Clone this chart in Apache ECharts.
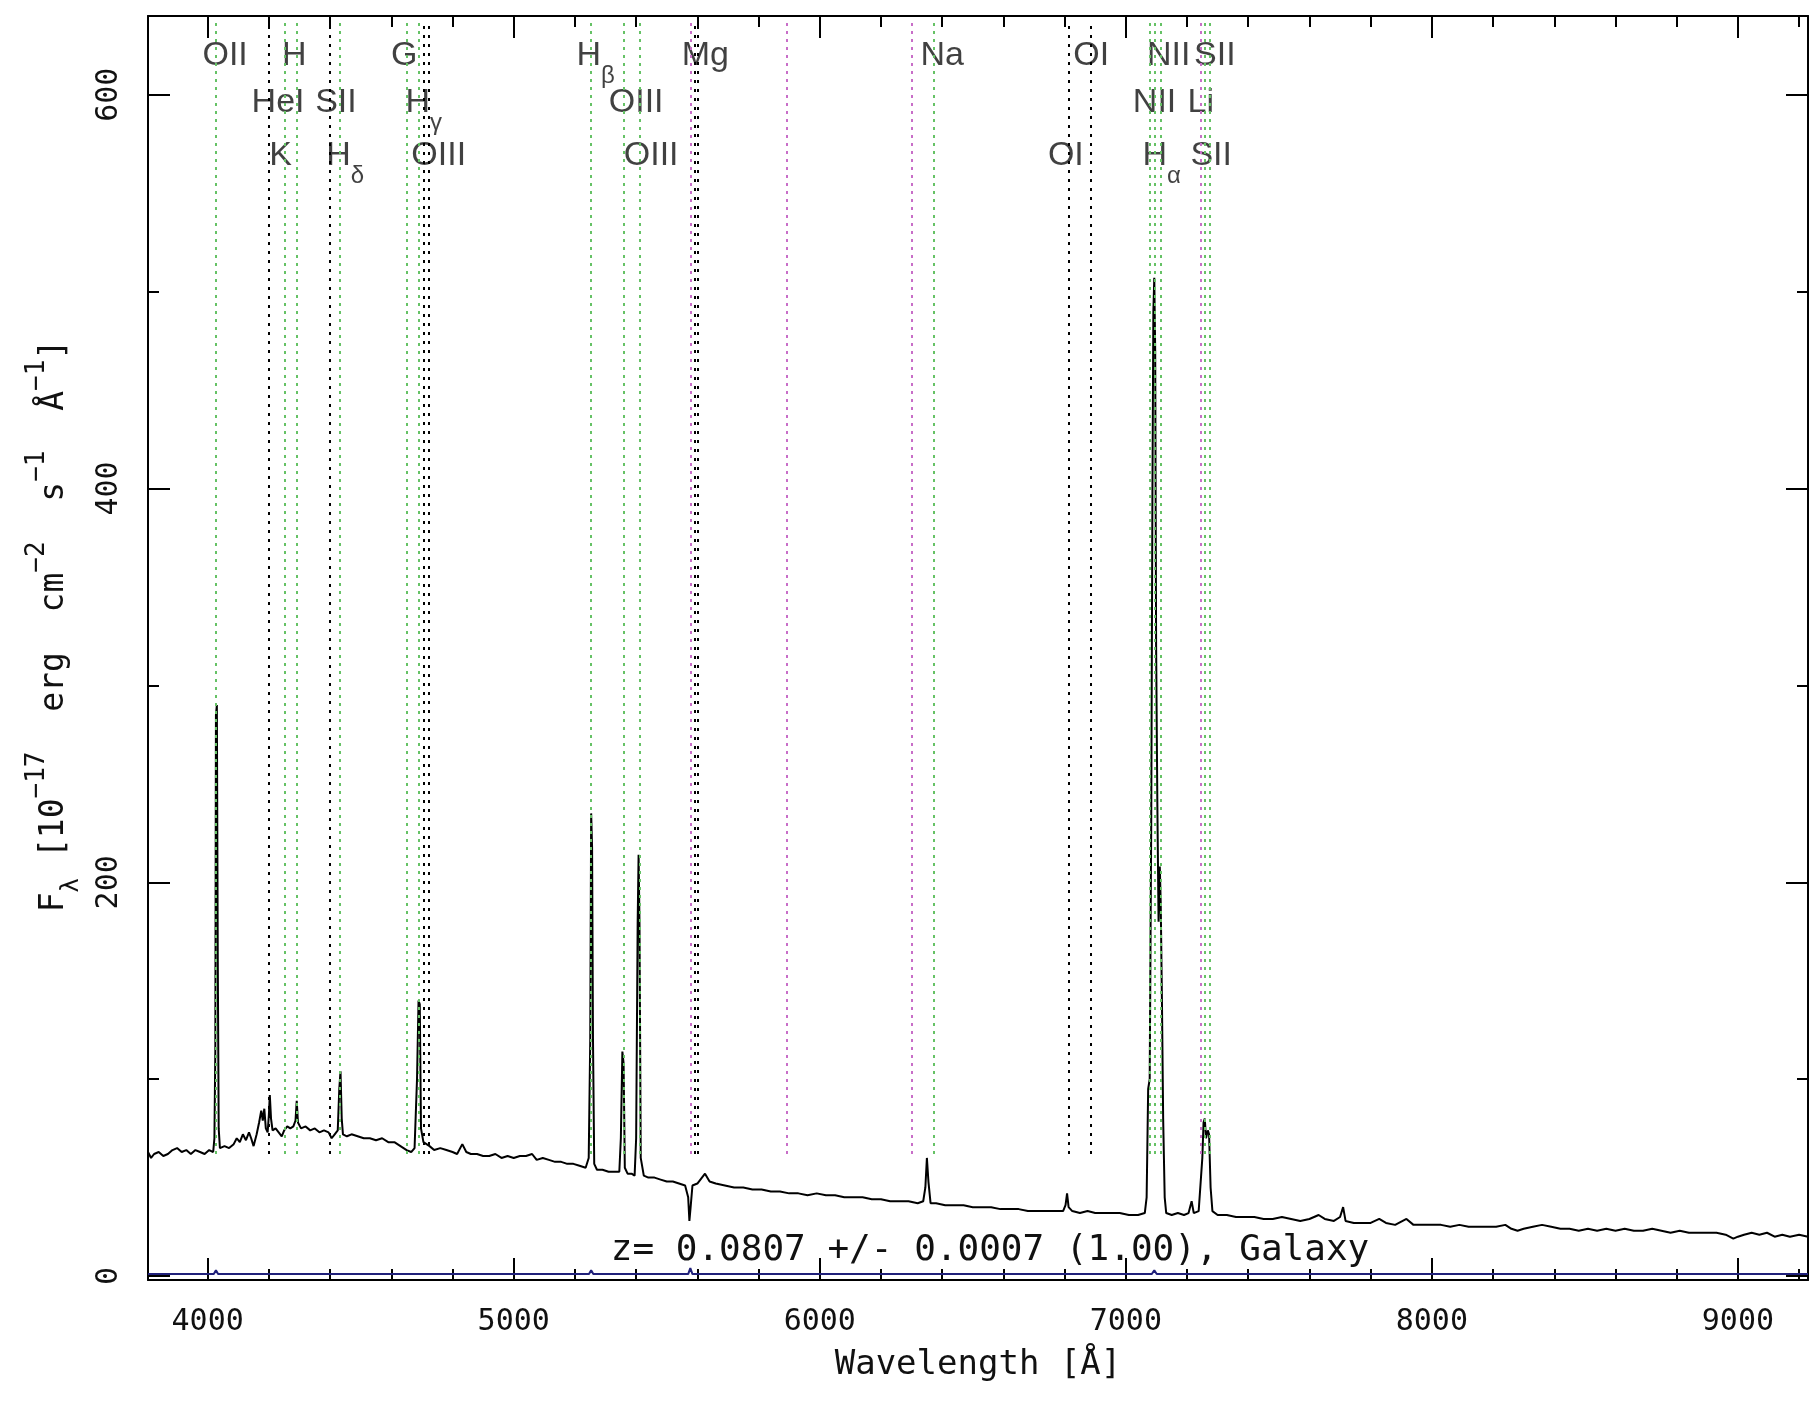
<!DOCTYPE html>
<html><head><meta charset="utf-8">
<script src="https://cdn.jsdelivr.net/npm/echarts@6/dist/echarts.min.js"></script>
<style>html,body{margin:0;padding:0;background:#fff}#c{width:1811px;height:1419px}</style>
</head><body><div id="c"></div>
<script>
// ---- data ----
const wavelength = [3805,3815,3825,3840,3855,3870,3885,3900,3915,3930,3945,3960,3975,3990,4005,4018,4022,4025,4027,4030,4033,4036,4040,4055,4070,4085,4095,4105,4115,4125,4135,4142,4150,4160,4168,4175,4180,4185,4190,4196,4200,4203,4207,4212,4222,4232,4242,4250,4260,4270,4280,4287,4291,4295,4305,4320,4335,4350,4365,4380,4395,4405,4415,4425,4430,4434,4438,4442,4455,4470,4490,4510,4530,4550,4570,4590,4610,4630,4650,4665,4676,4684,4689,4693,4697,4705,4715,4725,4740,4760,4780,4800,4815,4832,4845,4860,4880,4900,4920,4940,4960,4980,5000,5020,5040,5060,5075,5095,5115,5135,5155,5175,5195,5215,5235,5245,5250,5253,5256,5259,5263,5272,5290,5310,5330,5345,5350,5355,5359,5363,5372,5385,5395,5400,5405,5408,5411,5415,5425,5440,5460,5480,5500,5520,5540,5560,5570,5574,5578,5584,5600,5615,5625,5640,5660,5690,5720,5750,5780,5810,5840,5870,5900,5930,5960,5990,6020,6050,6080,6110,6140,6170,6200,6230,6260,6290,6320,6338,6345,6350,6355,6362,6380,6410,6440,6470,6500,6530,6560,6590,6620,6650,6680,6710,6740,6770,6795,6803,6808,6813,6825,6850,6875,6900,6925,6950,6980,7010,7040,7062,7068,7073,7078,7083,7087,7090,7093,7096,7099,7103,7107,7111,7114,7118,7122,7127,7132,7150,7170,7190,7205,7215,7222,7238,7250,7254,7258,7262,7268,7272,7277,7283,7300,7330,7360,7390,7420,7450,7480,7510,7540,7570,7600,7630,7650,7680,7700,7710,7718,7745,7770,7800,7828,7850,7880,7917,7940,7970,8000,8030,8060,8090,8120,8150,8180,8210,8240,8260,8280,8300,8330,8360,8390,8420,8450,8480,8510,8540,8570,8600,8630,8660,8690,8720,8750,8780,8810,8840,8870,8900,8930,8960,8985,9000,9020,9045,9070,9095,9120,9145,9170,9200,9229];
const flux = [63,60,62,63,61,62,64,65,63,64,62,64,63,62,64,63,70,115,285,290,160,75,65,66,65,67,70,68,72,69,73,70,66,72,78,84,79,85,75,73,82,92,80,74,75,73,71,74,76,75,76,79,89,78,75,76,74,75,73,74,73,70,72,74,95,104,80,72,71,72,71,70,70,69,70,68,68,66,64,63,65,100,140,138,75,68,67,66,64,65,64,63,62,67,63,62,62,61,61,62,60,61,60,61,61,62,59,60,59,58,58,57,57,56,55,60,120,235,218,120,57,54,54,53,53,53,70,114,108,55,52,52,51,70,180,214,178,60,51,50,50,49,48,48,47,46,40,28,35,46,47,50,52,48,47,46,45,45,44,44,43,43,42,42,41,42,41,41,40,40,40,39,39,38,38,38,37,38,45,60,48,37,37,36,36,36,35,35,35,34,34,34,33,33,33,33,33,36,42,35,33,32,33,32,32,32,32,31,31,32,40,95,100,230,400,490,507,470,320,240,180,208,190,140,80,40,32,31,32,31,32,38,32,33,60,78,80,70,74,72,45,33,31,31,30,30,30,29,29,30,29,28,29,31,29,28,30,35,28,27,27,27,29,27,26,29,26,26,26,26,25,26,25,25,25,25,26,24,23,24,25,26,25,24,24,23,24,23,24,23,24,23,23,24,23,22,23,22,22,22,22,21,19,20,21,22,21,22,20,21,20,21,20];
const errWavelength = [3805,4020,4027,4034,5246,5253,5260,5570,5577,5584,7085,7093,7101,9229];
const errFlux = [1,1,3,1,1,3,1,1,4,1,1,3,1,1];

const xMajorTicks = [4000,5000,6000,7000,8000,9000];
const xMinorTicks = [4200,4400,4600,4800,5200,5400,5600,5800,6200,6400,6600,6800,7200,7400,7600,7800,8200,8400,8600,8800,9200];
const yMajorTicks = [0,200,400,600];
const yMinorTicks = [100,300,500];

const greenLines = [4026,4253,4292,4430,4649,4690,5253,5358,5411,6373,7079,7093,7114,7259,7274];
const blackLines = [4200,4400,4705,4721,5590,5602,6815,6884];
const magentaLines = [5577,5891,6302,7246];

const labelText = ['OII','H','G','H','Mg','Na','OI','NII','SII','HeI','SII','H','OIII','NII','Li','K','H','OIII','OIII','OI','H','SII'];
const labelSub  = ['','','','β','','','','','','','','γ','','','','','δ','','','','α',''];
const labelWave = [4057,4283,4642,5268,5626,6400,6887,7140,7291,4230,4419,4706,5400,7094,7245,4238,4449,4755,5449,6804,7117,7279];
const labelRow  = [1,1,1,1,1,1,1,1,1,2,2,2,2,2,2,3,3,3,3,3,3,3];

const redshiftText = 'z= 0.0807 +/- 0.0007 (1.00), Galaxy';

// ---- layout / style ----
const XMIN = 3805, XMAX = 9229, YMIN = -2, YMAX = 640;
const LINE_BOTTOM = 62, LINE_TOP = 638;
const ROW_Y = {1: 616, 2: 592, 3: 565};
const MONO = "'DejaVu Sans Mono', monospace";
const SANS = "'Liberation Sans', Arial, sans-serif";

function xAxisDef(pos, ticks, len, showLine, showLabel, withName) {
  const a = {
    type: 'value', position: pos, min: XMIN, max: XMAX, gridIndex: 0,
    axisLine: {show: showLine, onZero: false, lineStyle: {color: '#000', width: 2}},
    axisTick: {show: true, inside: true, length: len, customValues: ticks, lineStyle: {color: '#000', width: 2}},
    axisLabel: {show: showLabel, customValues: ticks, formatter: v => String(v), color: '#111', fontSize: 30, fontFamily: MONO, margin: 27},
    splitLine: {show: false}
  };
  if (withName) {
    a.name = 'Wavelength [Å]'; a.nameLocation = 'middle'; a.nameGap = 68;
    a.nameTextStyle = {color: '#111', fontSize: 34, fontFamily: MONO};
  }
  return a;
}
function yAxisDef(pos, ticks, len, showLine, showLabel, withName) {
  const a = {
    type: 'value', position: pos, min: YMIN, max: YMAX, gridIndex: 0,
    axisLine: {show: showLine, onZero: false, lineStyle: {color: '#000', width: 2}},
    axisTick: {show: true, inside: true, length: len, customValues: ticks, lineStyle: {color: '#000', width: 2}},
    axisLabel: {show: showLabel, customValues: ticks, formatter: v => String(v), rotate: 90, color: '#111', fontSize: 30, fontFamily: MONO, margin: 24},
    splitLine: {show: false}
  };
  if (withName) {
    a.name = '{b|F}{sub|λ}{b| [10}{sup|−17}{b|  erg  cm}{sup|−2}{b|  s}{sup|−1}{b|  Å}{sup|−1}{b|]}';
    a.nameLocation = 'middle'; a.nameGap = 64; a.nameRotate = 90;
    a.nameTextStyle = {
      color: '#111', fontFamily: MONO, padding: [0, 0, 0, 44],
      rich: {
        b: {fontSize: 33, fontFamily: MONO, color: '#111', lineHeight: 60, verticalAlign: 'middle'},
        sup: {fontSize: 26, fontFamily: MONO, color: '#111', lineHeight: 60, verticalAlign: 'top'},
        sub: {fontSize: 24, fontFamily: MONO, color: '#111', lineHeight: 60, verticalAlign: 'bottom'}
      }
    };
  }
  return a;
}

function vLines(list, color, dash) {
  return list.map(w => [
    {coord: [w, LINE_BOTTOM], lineStyle: {color: color, width: 2, type: dash}},
    {coord: [w, LINE_TOP]}
  ]);
}

const spectrum = wavelength.map((w, i) => [w, flux[i]]);
const errSpec = errWavelength.map((w, i) => [w, errFlux[i]]);
const labelData = labelText.map((t, i) => ({
  value: [labelWave[i], ROW_Y[labelRow[i]]],
  label: {formatter: labelSub[i] ? '{b|' + t + '}{s|' + labelSub[i] + '}' : '{b|' + t + '}'}
}));

const chart = echarts.init(document.getElementById('c'), null, {renderer: 'canvas'});
chart.setOption({
  animation: false,
  backgroundColor: '#fff',
  grid: {left: 148, right: 3, top: 16, bottom: 139, containLabel: false},
  xAxis: [
    xAxisDef('bottom', xMajorTicks, 22, true, true, true),
    xAxisDef('bottom', xMinorTicks, 11, false, false, false),
    xAxisDef('top', xMajorTicks, 22, true, false, false),
    xAxisDef('top', xMinorTicks, 11, false, false, false)
  ],
  yAxis: [
    yAxisDef('left', yMajorTicks, 22, true, true, true),
    yAxisDef('left', yMinorTicks, 11, false, false, false),
    yAxisDef('right', yMajorTicks, 22, true, false, false),
    yAxisDef('right', yMinorTicks, 11, false, false, false)
  ],
  series: [
    {type: 'line', data: [], z: 1, silent: true,
     markLine: {silent: true, symbol: ['none', 'none'], label: {show: false}, animation: false,
       data: [].concat(vLines(greenLines, '#66c266', [3, 5]), vLines(blackLines, '#000', [3, 6]), vLines(magentaLines, '#c86ec8', [3, 5]))}},
    {type: 'line', data: errSpec, z: 2, showSymbol: false, silent: true,
     lineStyle: {color: '#20207a', width: 2}},
    {type: 'line', data: spectrum, z: 3, showSymbol: false, silent: true,
     lineStyle: {color: '#000', width: 2}},
    {type: 'scatter', data: labelData, z: 4, symbolSize: 1, silent: true,
     itemStyle: {color: 'rgba(0,0,0,0)'},
     label: {show: true, position: 'inside', color: '#111',
       rich: {
         b: {fontSize: 34, fontFamily: SANS, color: '#111', lineHeight: 50, verticalAlign: 'top'},
         s: {fontSize: 24, fontFamily: SANS, color: '#111', lineHeight: 50, verticalAlign: 'bottom'}
       }}}
  ],
  graphic: [{
    type: 'text', x: 990, y: 1251, z: 10,
    style: {text: redshiftText, fill: '#111', fontSize: 36, fontFamily: MONO,
            align: 'center', verticalAlign: 'middle', textAlign: 'center', textVerticalAlign: 'middle'}
  }]
});
</script>
</body></html>
